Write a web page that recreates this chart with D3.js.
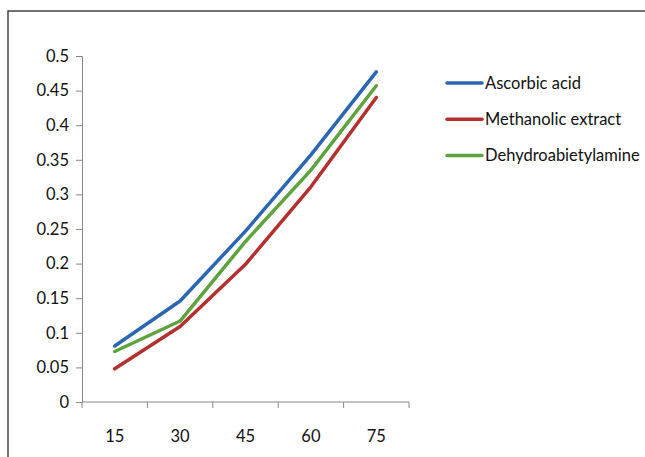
<!DOCTYPE html>
<html>
<head>
<meta charset="utf-8">
<script src="https://cdn.jsdelivr.net/npm/d3@7/dist/d3.min.js"></script>
<style>
  body { margin: 0; background: #fff; }
  svg { display: block; }
  text { font-family: Lato, "Open Sans", sans-serif; fill: #111; }
</style>
</head>
<body>
<svg id="chart" width="645" height="457"></svg>
<script>
const categories = ["15", "30", "45", "60", "75"];
const seriesNames = ["Ascorbic acid", "Methanolic extract", "Dehydroabietylamine"];
const ascorbic = [0.081, 0.146, 0.247, 0.357, 0.477];
const methanolic = [0.048, 0.109, 0.199, 0.311, 0.44];
const dehydro = [0.073, 0.117, 0.232, 0.335, 0.457];
const yTicks = [0, 0.05, 0.1, 0.15, 0.2, 0.25, 0.3, 0.35, 0.4, 0.45, 0.5];
const colors = ["#2B66B2", "#B3302E", "#5EA33E"];

const svg = d3.select("#chart");

// outer frame (top and left edges visible)
svg.append("path")
  .attr("d", "M8,457 L8,11 L645,11")
  .attr("fill", "none")
  .attr("stroke", "#444")
  .attr("stroke-width", 1.5);

const x = d3.scaleBand().domain(categories).range([82, 409]);
const y = d3.scaleLinear().domain([0, 0.5]).range([402, 56]);

const yAxis = svg.append("g")
  .attr("transform", "translate(82,0)")
  .call(d3.axisLeft(y).tickValues(yTicks).tickSize(6).tickPadding(7)
    .tickFormat(d => d === 0 ? "0" : String(+d.toFixed(2))));
yAxis.selectAll("text").attr("font-size", 16.5).style("font-family", "Lato, sans-serif");

const xAxis = svg.append("g")
  .attr("transform", "translate(0,402)");
xAxis.append("line")
  .attr("x1", 82).attr("x2", 409)
  .attr("stroke", "#888");
xAxis.selectAll(".tk")
  .data(categories.concat(["end"]))
  .enter().append("line")
  .attr("class", "tk")
  .attr("x1", (d, i) => i < categories.length ? x(d) : x.range()[1])
  .attr("x2", (d, i) => i < categories.length ? x(d) : x.range()[1])
  .attr("y1", 0).attr("y2", 6)
  .attr("stroke", "#888");
xAxis.selectAll(".lbl")
  .data(categories)
  .enter().append("text")
  .attr("x", d => x(d) + x.bandwidth() / 2)
  .attr("y", 40)
  .attr("text-anchor", "middle")
  .attr("font-size", 16.5)
  .text(d => d);

yAxis.select(".domain").attr("stroke", "#888");
yAxis.selectAll(".tick line").attr("stroke", "#888");
yAxis.selectAll(".tick text").attr("fill", "#111");

const line = d3.line()
  .x((d, i) => x(categories[i]) + x.bandwidth() / 2)
  .y(d => y(d));

[ascorbic, methanolic, dehydro].forEach((vals, i) => {
  svg.append("path")
    .datum(vals)
    .attr("d", line)
    .attr("fill", "none")
    .attr("stroke", colors[i])
    .attr("stroke-width", 3.5)
    .attr("stroke-linejoin", "round")
    .attr("stroke-linecap", "round");
});

// legend
const legend = svg.append("g");
seriesNames.forEach((name, i) => {
  const ly = 83 + i * 36.3;
  legend.append("line")
    .attr("x1", 447).attr("x2", 482)
    .attr("y1", ly).attr("y2", ly)
    .attr("stroke", colors[i])
    .attr("stroke-width", 3.5)
    .attr("stroke-linecap", "round");
  legend.append("text")
    .attr("x", 485).attr("y", ly + 5.5)
    .attr("font-size", 16.5)
    .text(name);
});
</script>
</body>
</html>
